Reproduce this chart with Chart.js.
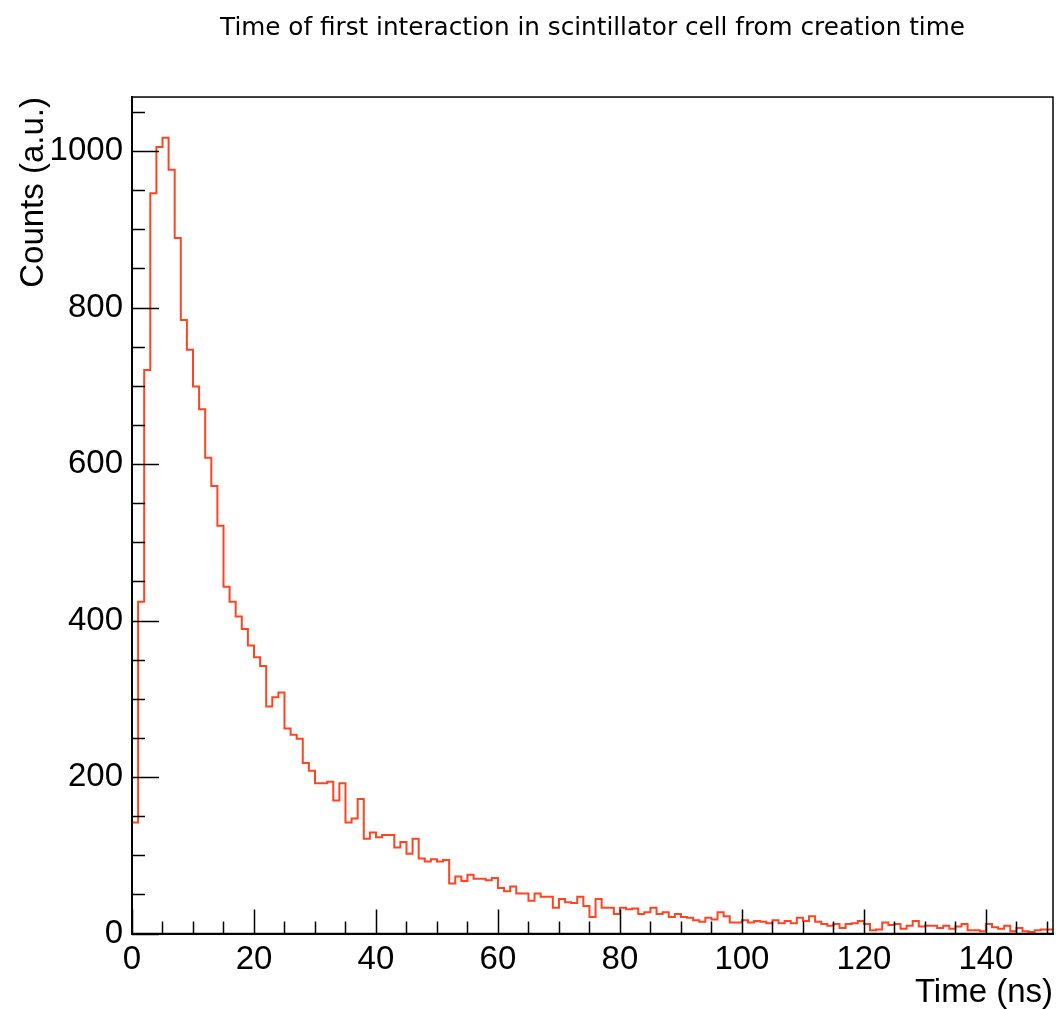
<!DOCTYPE html>
<html>
<head>
<meta charset="utf-8">
<script src="https://cdn.jsdelivr.net/npm/chart.js@4"></script>
<style>
  html, body { margin: 0; padding: 0; background: #fff; }
  #wrap { width: 1058px; height: 1009px; }
</style>
</head>
<body>
<div id="wrap"><canvas id="c" width="1058" height="1009"></canvas></div>
<script>
// histogram: 1 ns bins starting at 0
var binStart = 0
var binWidth = 1
var counts = [
  142, 424, 720, 946, 1005, 1017, 976, 889, 784, 746,
  699, 670, 608, 572, 521, 443, 424, 405, 389, 368,
  353, 342, 290, 302, 308, 262, 254, 249, 218, 208,
  192, 192, 194, 170, 192, 142, 147, 172, 121, 129,
  123, 126, 126, 110, 117, 102, 121, 96, 92, 95,
  92, 94, 64, 73, 67, 75, 70, 70, 68, 71,
  58, 54, 60, 51, 51, 42, 51, 47, 47, 33,
  44, 40, 39, 47, 35, 21, 44, 33, 33, 25,
  33, 31, 32, 25, 27, 33, 25, 27, 21, 25,
  21, 20, 17, 15, 20, 18, 27, 22, 14, 14,
  17, 14, 16, 15, 13, 17, 13, 16, 13, 20,
  16, 22, 15, 12, 10, 12, 7, 12, 13, 16,
  12, 4, 5, 14, 11, 12, 6, 10, 16, 9,
  10, 10, 7, 10, 6, 9, 12, 4, 4, 3,
  12, 8, 6, 10, 3, 7, 3, 2, 4, 5,
  5
]
var xTicks = [0, 20, 40, 60, 80, 100, 120, 140]
var yTicks = [0, 200, 400, 600, 800, 1000]
var xRange = [0, 151]
var yRange = [0, 1069]

var titleText = 'Time of first interaction in scintillator cell from creation time'
var xTitle = 'Time (ns)'
var yTitle = 'Counts (a.u.)'

var FONT = '"Liberation Sans", Arial, Helvetica, sans-serif'

// points at the low edge of each bin, plus the closing edge
var pts = counts.map(function (c, i) { return {x: binStart + i * binWidth, y: c} })
pts.push({x: binStart + counts.length * binWidth, y: counts[counts.length - 1]})

// ROOT-like frame with inward ticks
var rootFrame = {
  id: 'rootFrame',
  afterDraw: function (chart) {
    var ctx = chart.ctx, a = chart.chartArea
    var x = chart.scales.x, y = chart.scales.y
    ctx.save()
    ctx.strokeStyle = '#000'
    ctx.lineWidth = 1.5
    ctx.beginPath()
    for (var v = xRange[0]; v <= xRange[1]; v += 5) {
      var px = Math.round(x.getPixelForValue(v)) + 0.5
      var len = v % 20 === 0 ? 24 : 12
      ctx.moveTo(px, a.bottom)
      ctx.lineTo(px, a.bottom - len)
    }
    for (var w = yRange[0]; w <= yRange[1]; w += 50) {
      var py = Math.round(y.getPixelForValue(w)) + 0.5
      var l2 = w % 200 === 0 ? 27 : 13
      ctx.moveTo(a.left, py)
      ctx.lineTo(a.left + l2, py)
    }
    ctx.stroke()
    ctx.strokeRect(a.left, a.top, a.right - a.left, a.bottom - a.top)
    ctx.restore()
  }
}

var ctx = document.getElementById('c').getContext('2d')
window.zx = new Chart(ctx, {
  type: 'line',
  data: {
    datasets: [{
      data: pts,
      borderColor: '#ff4422',
      borderWidth: 2,
      backgroundColor: 'transparent',
      pointRadius: 0,
      stepped: true,
      fill: false
    }]
  },
  options: {
    responsive: false,
    animation: false,
    layout: {padding: {left: 0, right: 5, top: 0, bottom: 0}},
    plugins: {
      legend: {display: false},
      tooltip: {enabled: false},
      title: {
        display: true,
        text: titleText,
        fullSize: false,
        color: '#000',
        font: {family: '"DejaVu Sans", sans-serif', size: 24.7, weight: 'normal', lineHeight: 1.2},
        padding: {top: 13.5, bottom: 53.9}
      }
    },
    scales: {
      x: {
        type: 'linear',
        min: xRange[0],
        max: xRange[1],
        grid: {display: false, drawTicks: false},
        border: {display: true, color: '#000', width: 2},
        afterBuildTicks: function (s) { s.ticks = xTicks.map(function (v) { return {value: v} }) },
        afterFit: function (s) { s.height = 1009 - 933.5 },
        ticks: {
          color: '#000',
          maxRotation: 0,
          padding: 7,
          font: {family: FONT, size: 33},
          callback: function (v) { return String(v) }
        },
        title: {
          display: true,
          text: xTitle,
          align: 'end',
          color: '#000',
          font: {family: FONT, size: 33, lineHeight: 1},
          padding: {top: 0, bottom: 0}
        }
      },
      y: {
        type: 'linear',
        min: yRange[0],
        max: yRange[1],
        grid: {display: false, drawTicks: false},
        border: {display: true, color: '#000', width: 2},
        afterBuildTicks: function (s) { s.ticks = yTicks.map(function (v) { return {value: v} }) },
        afterFit: function (s) { s.width = 132 },
        ticks: {
          color: '#000',
          padding: 9,
          font: {family: FONT, size: 33},
          callback: function (v) { return String(v) }
        },
        title: {
          display: true,
          text: yTitle,
          align: 'end',
          color: '#000',
          font: {family: FONT, size: 33, lineHeight: 1},
          padding: {top: 17, bottom: 0}
        }
      }
    }
  },
  plugins: [rootFrame]
})
</script>
</body>
</html>
